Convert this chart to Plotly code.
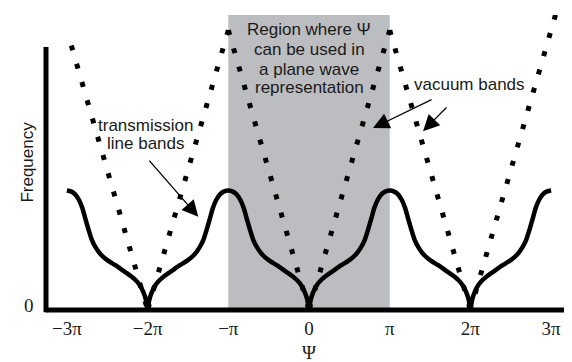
import plotly.graph_objects as go

# ---- data (x in units of pi, frequency in arbitrary units) ----
band_centers = [-2, 0, 2]
band_offset = [0, 0.02, 0.05, 0.1, 0.15, 0.2, 0.3, 0.4, 0.5, 0.58, 0.64, 0.69,
               0.73, 0.77, 0.81, 0.85, 0.9, 0.95, 1.0]
band_freq = [0, 0.035, 0.062, 0.09, 0.107, 0.12, 0.14, 0.16, 0.178, 0.198, 0.222,
             0.25, 0.285, 0.325, 0.365, 0.393, 0.414, 0.424, 0.427]

vac_top_x = [-2.945, -1, -1, 1, 1, 3.12]
vac_top_f = [0.945, 1.0, 1.0, 1.0, 1.0, 1.12]
vac_cusp_x = [-2, -2, 0, 0, 2, 2]

tick_vals = [-3, -2, -1, 0, 1, 2, 3]
tick_text = ["\u22123\u03c0", "\u22122\u03c0", "\u2212\u03c0", "0", "\u03c0", "2\u03c0", "3\u03c0"]

region_lines = ["Region where \u03a8", "can be used in", "a plane wave", "representation"]
region_line_y = [1.001, 0.929, 0.861, 0.796]
trans_lines = ["transmission", "line bands"]
trans_line_y = [0.661, 0.596]

x_range = [-3.259, 3.234]
y_top = 1.054
y_axis_top = 0.94

# ---- build transmission line curve ----
tx, tf = [], []
for c in band_centers:
    for o, f in zip(band_offset[::-1], band_freq[::-1]):
        if tx and abs(tx[-1] - (c - o)) < 1e-9:
            continue
        tx.append(c - o); tf.append(f)
    for o, f in zip(band_offset[1:], band_freq[1:]):
        tx.append(c + o); tf.append(f)

fig = go.Figure()

# vacuum bands (dotted)
for x0, f0, xc in zip(vac_top_x, vac_top_f, vac_cusp_x):
    fig.add_trace(go.Scatter(x=[x0, xc], y=[f0, 0], mode="lines",
                             line=dict(color="black", width=5, dash="5px,14px"),
                             hoverinfo="skip", showlegend=False))

# transmission line bands (solid)
fig.add_trace(go.Scatter(x=tx, y=tf, mode="lines",
                         line=dict(color="black", width=4.5, shape="spline", smoothing=0.6),
                         hoverinfo="skip", showlegend=False))

shapes = [
    dict(type="rect", xref="x", yref="y", x0=-1, x1=1, y0=0, y1=y_top,
         fillcolor="#bcbdc0", line=dict(width=0), layer="below"),
    dict(type="line", xref="paper", yref="paper", x0=0, x1=1, y0=0, y1=0,
         line=dict(color="black", width=5)),
    dict(type="line", xref="paper", yref="paper", x0=0, x1=0, y0=-0.008, y1=y_axis_top / y_top,
         line=dict(color="black", width=5)),
]

sans = "Liberation Sans, Arial, Helvetica, sans-serif"
serif = "Liberation Serif, Times New Roman, serif"
txtc = "#1a1a1a"

annotations = []
for t, yv in zip(region_lines, region_line_y):
    annotations.append(dict(x=0, y=yv, xref="x", yref="y", text=t, showarrow=False,
                            font=dict(family=sans, size=17, color=txtc)))
for t, yv in zip(trans_lines, trans_line_y):
    annotations.append(dict(x=-2.02, y=yv, xref="x", yref="y", text=t, showarrow=False,
                            font=dict(family=sans, size=17, color=txtc)))
annotations += [
    dict(x=1.983, y=0.804, xref="x", yref="y", text="vacuum bands",
         showarrow=False, font=dict(family=sans, size=17, color=txtc)),
    # arrows
    dict(x=-1.372, y=0.333, ax=-1.995, ay=0.539, xref="x", yref="y", axref="x", ayref="y",
         text="", showarrow=True, arrowhead=2, arrowsize=2.5, arrowwidth=1.3, arrowcolor="black"),
    dict(x=0.793, y=0.65, ax=1.537, ay=0.754, xref="x", yref="y", axref="x", ayref="y",
         text="", showarrow=True, arrowhead=2, arrowsize=2.5, arrowwidth=1.3, arrowcolor="black"),
    dict(x=1.413, y=0.639, ax=1.722, ay=0.729, xref="x", yref="y", axref="x", ayref="y",
         text="", showarrow=True, arrowhead=2, arrowsize=2.5, arrowwidth=1.3, arrowcolor="black"),
    # axis texts
    dict(x=0, y=0, xref="paper", yref="y", xanchor="right", yanchor="middle", xshift=-10, yshift=5,
         text="0", showarrow=False, font=dict(family=serif, size=19, color=txtc)),
    dict(x=0, y=0, xref="x", yref="paper", yanchor="middle", yshift=-42, text="\u03a8",
         showarrow=False, font=dict(family=serif, size=19, color=txtc)),
    dict(x=-0.058, y=0.5, xref="paper", yref="paper", text="Frequency", textangle=-90,
         showarrow=False, font=dict(family=sans, size=17, color=txtc)),
]

# the page body adds an 8px offset, so the figure is 8px smaller and margins compensate
fig.update_layout(
    width=564, height=354,
    margin=dict(l=38, r=2, t=7, b=52, autoexpand=False),
    paper_bgcolor="white", plot_bgcolor="white",
    shapes=shapes, annotations=annotations,
    xaxis=dict(range=x_range, tickvals=tick_vals, ticktext=tick_text, automargin=False,
               showgrid=False, zeroline=False, showline=False, ticks="",
               tickfont=dict(family=serif, size=19, color=txtc), ticklabelstandoff=5),
    yaxis=dict(range=[0, y_top], showgrid=False, zeroline=False, showline=False, automargin=False,
               showticklabels=False, ticks=""),
)

fig.write_html("out.html")
